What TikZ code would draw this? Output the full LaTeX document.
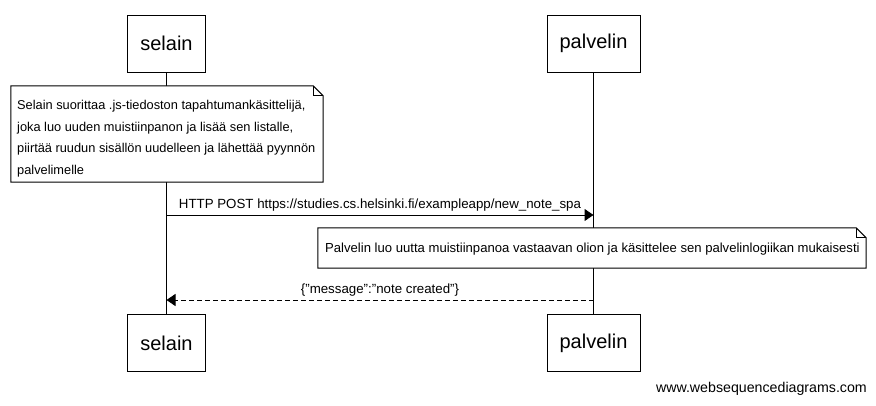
\documentclass[tikz,border=0pt]{standalone}
\usepackage{fontspec}
\setmainfont{Liberation Sans}
\usetikzlibrary{arrows.meta}
\begin{document}
\begin{tikzpicture}[x=1pt,y=-1pt,
  actor/.style={draw, line width=1pt, minimum height=57pt, inner sep=0pt,
    font=\fontsize{20}{22}\selectfont},
  noteframe/.style={inner sep=0pt},
  notetext/.style={inner sep=0pt, align=left, anchor=west,
    font=\fontsize{13.1}{21.6}\selectfont},
  noteline/.style={line width=1pt, fill=white},
  lifeline/.style={line width=1pt},
  msg/.style={line width=1pt, -{Triangle[length=9pt,width=12pt]}},
  reply/.style={msg, dash pattern=on 5pt off 3pt},
  lbl/.style={font=\fontsize{13.3}{15}\selectfont, inner sep=0pt},
  footer/.style={font=\fontsize{14.2}{16}\selectfont, inner sep=0pt},
]
\useasboundingbox[fill=white] (0,0) rectangle (876,405);

% actors
\node[actor, minimum width=78pt] (s1) at (166.5,43.5) {selain};
\node[actor, minimum width=93pt] (p1) at (593.5,43.5) {palvelin};
\node[actor, minimum width=78pt] (s2) at (166.5,343) {selain};
\node[actor, minimum width=93pt] (p2) at (593.5,343) {palvelin};

% lifelines
\draw[lifeline] (s1.south) -- (s2.north);
\draw[lifeline] (p1.south) -- (p2.north);

% note 1
\node[noteframe, minimum width=312pt, minimum height=96pt] (n1) at (167,134) {};
\draw[noteline] (n1.north west) -- ([xshift=-10pt]n1.north east) -- ([yshift=-10pt]n1.north east)
  -- (n1.south east) -- (n1.south west) -- cycle;
\draw[line width=1pt] ([xshift=-10pt]n1.north east) -- ([xshift=-10pt,yshift=-10pt]n1.north east) -- ([yshift=-10pt]n1.north east);
\node[notetext, font=\fontsize{12.8}{21.6}\selectfont] (n1t) at (17,138.5)
  {Selain suorittaa .js-tiedoston tapahtumankäsittelijä,\\
   joka luo uuden muistiinpanon ja lisää sen listalle,\\
   piirtää ruudun sisällön uudelleen ja lähettää pyynnön\\
   palvelimelle};

% message 1
\coordinate (m1a) at (s1.south |- 0,215);
\coordinate (m1b) at (p1.south |- 0,215);
\draw[msg] (m1a) -- node[lbl, above=3pt] (t1) {HTTP POST https://studies.cs.helsinki.fi/exampleapp/new\_note\_spa} (m1b);

% note 2
\node[noteframe, minimum width=548pt, minimum height=40pt] (n2) at (592,248) {};
\draw[noteline] (n2.north west) -- ([xshift=-10pt]n2.north east) -- ([yshift=-10pt]n2.north east)
  -- (n2.south east) -- (n2.south west) -- cycle;
\draw[line width=1pt] ([xshift=-10pt]n2.north east) -- ([xshift=-10pt,yshift=-10pt]n2.north east) -- ([yshift=-10pt]n2.north east);
\node[notetext] (n2t) at (325,249)
  {Palvelin luo uutta muistiinpanoa vastaavan olion ja käsittelee sen palvelinlogiikan mukaisesti};

% reply
\coordinate (m2a) at (p1.south |- 0,300);
\coordinate (m2b) at (s1.south |- 0,300);
\draw[reply] (m2a) -- node[lbl, above=3pt] (t2) {\{"message":"note created"\}} (m2b);

% footer
\node[footer, anchor=east] (foot) at (867,389) {www.websequencediagrams.com};
\end{tikzpicture}
\end{document}
